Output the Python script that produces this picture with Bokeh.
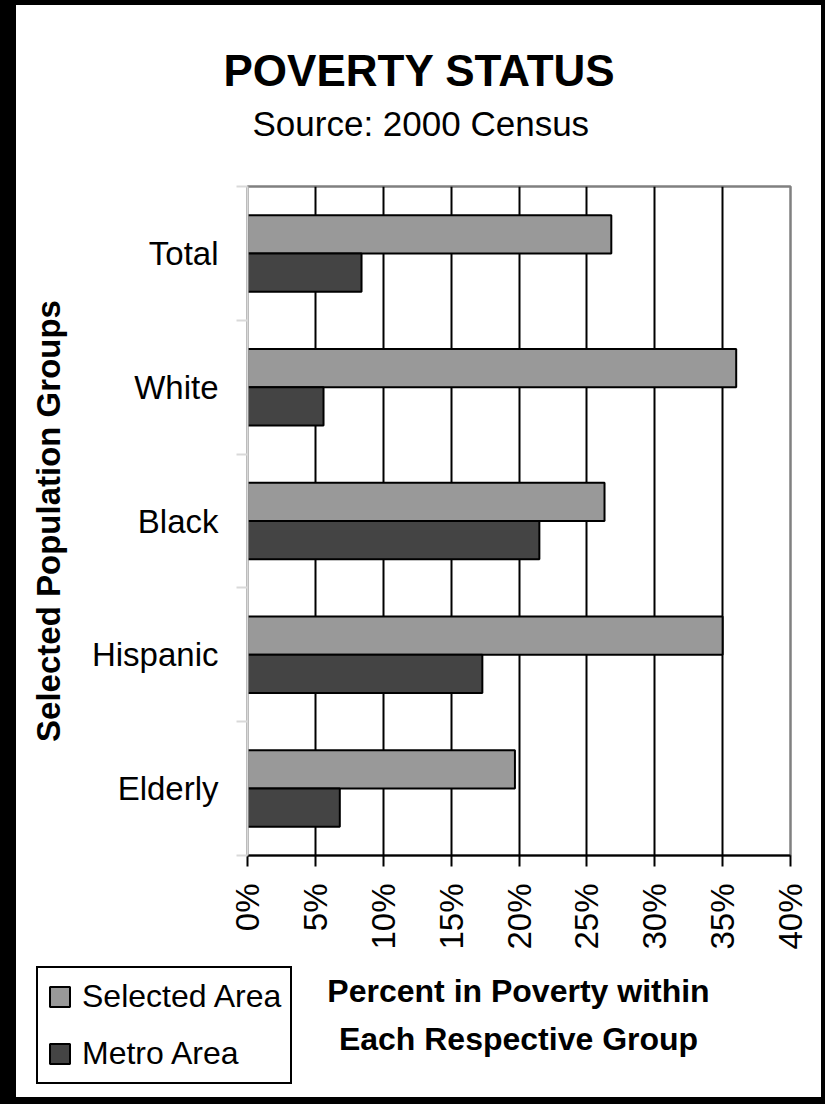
import math
from bokeh.plotting import figure
from bokeh.layouts import column
from bokeh.models import (Range1d, FixedTicker, PrintfTickFormatter, Title, Legend,
                          LegendItem, ColumnDataSource, Label)
from bokeh.transform import dodge
from bokeh.embed import file_html
from bokeh.resources import INLINE

# ---- data ----
categories = ["Total", "White", "Black", "Hispanic", "Elderly"]
selected_area = [26.8, 36.0, 26.3, 35.0, 19.7]
metro_area = [8.4, 5.6, 21.5, 17.3, 6.8]
x_ticks = [0, 5, 10, 15, 20, 25, 30, 35, 40]
series_names = ["Selected Area", "Metro Area"]
series_colors = ["#999999", "#444444"]
title_text = "POVERTY STATUS"
subtitle_text = "Source: 2000 Census"
x_title = "Percent in Poverty within\nEach Respective Group"
y_title = "Selected Population Groups"

FONT = "Liberation Sans"
n = len(categories)
ypos = [n - 0.5 - i for i in range(n)]
src = ColumnDataSource(dict(cat=categories, y=ypos, sel=selected_area, met=metro_area))

W = 825
H1, H2 = 955, 149
bar_h = 0.286

# ================= main chart =================
p = figure(width=W, height=H1, output_backend="svg", toolbar_location=None,
           title_location=None,
           x_range=Range1d(x_ticks[0], x_ticks[-1]), y_range=Range1d(0, n),
           min_border_left=247, min_border_right=35, min_border_top=186,
           min_border_bottom=100)
p.background_fill_color = "white"
p.border_fill_alpha = 0
p.styles = {"background-color": "white",
            "box-shadow": "inset 16px 5px 0 0 black, inset -4px 0 0 0 black"}
p.outline_line_color = "#808080"
p.outline_line_width = 2.5

# titles (first added is closest to the frame)
p.add_layout(Title(text=" ", text_font=FONT, text_font_size="10px", standoff=26), "above")
p.add_layout(Title(text=subtitle_text, text_font=FONT, text_font_size="35px",
                   text_font_style="normal", text_color="black",
                   align="left", offset=5, standoff=10), "above")
p.add_layout(Title(text=title_text, text_font=FONT, text_font_size="44px",
                   text_font_style="bold", text_color="black",
                   align="left", offset=-24, standoff=4), "above")

r1 = p.hbar(y=dodge("y", bar_h / 2), left=0, right="sel", height=bar_h, source=src,
            fill_color=series_colors[0], line_color="black", line_width=2)
r2 = p.hbar(y=dodge("y", -bar_h / 2), left=0, right="met", height=bar_h, source=src,
            fill_color=series_colors[1], line_color="black", line_width=2)

# grid
p.ygrid.visible = False
p.xgrid.ticker = FixedTicker(ticks=x_ticks[1:-1])
p.xgrid.grid_line_color = "black"
p.xgrid.grid_line_width = 2

# x axis
xa = p.xaxis[0]
xa.ticker = FixedTicker(ticks=x_ticks)
xa.formatter = PrintfTickFormatter(format="%d%%")
xa.major_label_orientation = math.pi / 2
xa.major_label_text_font = FONT
xa.major_label_text_font_size = "33px"
xa.major_label_text_color = "black"
xa.major_label_standoff = 17
xa.axis_line_color = "black"
xa.axis_line_width = 2
xa.major_tick_line_color = "black"
xa.major_tick_line_width = 2
xa.major_tick_out = 11
xa.major_tick_in = 0
xa.minor_tick_line_color = None

# y axis
ya = p.yaxis[0]
ya.ticker = FixedTicker(ticks=ypos, minor_ticks=list(range(n + 1)))
ya.major_label_overrides = {y: c for y, c in zip(ypos, categories)}
ya.major_label_text_font = FONT
ya.major_label_text_font_size = "33px"
ya.major_label_text_color = "black"
ya.major_label_standoff = 18
ya.major_tick_line_color = None
ya.major_tick_out = 0
ya.major_tick_in = 0
ya.minor_tick_line_color = "#d9d9d9"
ya.minor_tick_line_width = 2
ya.minor_tick_out = 11
ya.minor_tick_in = 0
ya.axis_line_color = "#d9d9d9"
ya.axis_line_width = 2
ya.axis_label = y_title
ya.axis_label_text_font = FONT
ya.axis_label_text_font_size = "33px"
ya.axis_label_text_font_style = "bold"
ya.axis_label_text_color = "black"
ya.axis_label_standoff = 22

# ================= legend + x-axis title strip =================
q = figure(width=W, height=H2, output_backend="svg", toolbar_location=None,
           title_location=None, x_axis_location=None, y_axis_location=None,
           x_range=Range1d(x_ticks[0], x_ticks[-1]), y_range=Range1d(n + 1, n + 2),
           min_border=0, min_border_left=0, min_border_right=0,
           min_border_top=0, min_border_bottom=0)
try:
    q.frame_align = False
    p.frame_align = False
except Exception:
    pass
q.background_fill_alpha = 0
q.border_fill_alpha = 0
q.outline_line_color = None
q.grid.visible = False
q.styles = {"background-color": "white",
            "box-shadow": "inset 16px 0 0 0 black, inset -4px -7px 0 0 black"}

# legend entries reuse the same series (their bars lie outside this strip's view)
k1 = q.hbar(y=dodge("y", bar_h / 2), left=0, right="sel", height=bar_h, source=src,
            fill_color=series_colors[0], line_color="black", line_width=2)
k2 = q.hbar(y=dodge("y", -bar_h / 2), left=0, right="met", height=bar_h, source=src,
            fill_color=series_colors[1], line_color="black", line_width=2)

legend = Legend(items=[LegendItem(label=series_names[0], renderers=[k1]),
                       LegendItem(label=series_names[1], renderers=[k2])],
                location=(36, 20), orientation="vertical",
                label_text_font=FONT, label_text_font_size="32px",
                label_text_color="black", label_height=39, label_standoff=10,
                glyph_width=25, glyph_height=25, spacing=18, padding=9, margin=0,
                border_line_color="black", border_line_width=2, border_line_alpha=1,
                background_fill_color="white", background_fill_alpha=1)
q.add_layout(legend)

q.add_layout(Label(x=518, y=89.5, x_units="screen", y_units="screen",
                   text=x_title, text_align="center", text_baseline="middle",
                   text_font=FONT, text_font_size="32px", text_font_style="bold",
                   text_color="black", text_line_height=1.31))

layout = column(p, q, spacing=0)
open("out.html", "w").write(file_html(layout, INLINE))
